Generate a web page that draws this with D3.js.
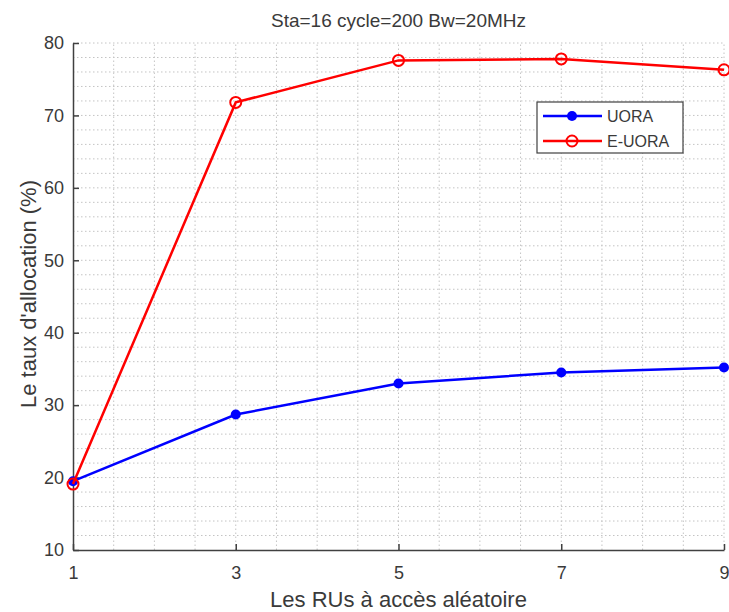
<!DOCTYPE html>
<html>
<head>
<meta charset="utf-8">
<script src="https://d3js.org/d3.v7.min.js"></script>
<style>
body { margin: 0; background: #fff; font-family: "Liberation Sans", Arial, sans-serif; }
svg { display: block; }
.grid line { stroke: #c4c4c4; stroke-width: 1; stroke-dasharray: 1.5 2.5; }
.axis path, .axis line { stroke: #404040; stroke-width: 1.5; }
.axis text { fill: #3a3a3a; font-size: 18px; font-family: "Liberation Sans", Arial, sans-serif; }
</style>
</head>
<body>
<div id="plot"></div>
<script>
var xValues = [1, 3, 5, 7, 9];
var uora = [19.5, 28.7, 33.0, 34.5, 35.2];
var euora = [19.1, 71.8, 77.6, 77.8, 76.3];
var xTicks = [1, 3, 5, 7, 9];
var yTicks = [10, 20, 30, 40, 50, 60, 70, 80];

var width = 729, height = 612;
var margin = { left: 73, right: 5, top: 43, bottom: 62 };

var svg = d3.select("#plot").append("svg")
  .attr("width", width).attr("height", height);

var xScale = d3.scaleLinear().domain([1, 9]).range([margin.left, width - margin.right]);
var yScale = d3.scaleLinear().domain([10, 80]).range([height - margin.bottom, margin.top]);

// dotted grid, minor every 0.5 in x and every 2 in y
var grid = svg.append("g").attr("class", "grid");
grid.selectAll("line.gx").data(d3.range(1.5, 9.01, 0.5)).enter()
  .append("line").attr("class", "gx")
  .attr("x1", d => xScale(d)).attr("x2", d => xScale(d))
  .attr("y1", yScale(10)).attr("y2", yScale(80));
grid.selectAll("line.gy").data(d3.range(12, 80.01, 2)).enter()
  .append("line").attr("class", "gy")
  .attr("x1", xScale(1)).attr("x2", xScale(9))
  .attr("y1", d => yScale(d)).attr("y2", d => yScale(d));

// axes
svg.append("g").attr("class", "axis")
  .attr("transform", "translate(0," + yScale(10) + ")")
  .call(d3.axisBottom(xScale).tickValues(xTicks).tickSizeInner(-6).tickSizeOuter(0).tickPadding(16));
svg.append("g").attr("class", "axis")
  .attr("transform", "translate(" + xScale(1) + ",0)")
  .call(d3.axisLeft(yScale).tickValues(yTicks).tickSizeInner(-6).tickSizeOuter(0).tickPadding(9));

// series
var line = d3.line().x((d, i) => xScale(xValues[i])).y(d => yScale(d));

svg.append("path").datum(uora)
  .attr("d", line).attr("fill", "none")
  .attr("stroke", "#0000ff").attr("stroke-width", 2.5);
svg.selectAll("circle.uora").data(uora).enter()
  .append("circle").attr("class", "uora")
  .attr("cx", (d, i) => xScale(xValues[i])).attr("cy", d => yScale(d))
  .attr("r", 5).attr("fill", "#0000ff");

svg.append("path").datum(euora)
  .attr("d", line).attr("fill", "none")
  .attr("stroke", "#ff0000").attr("stroke-width", 2.5);
svg.selectAll("circle.euora").data(euora).enter()
  .append("circle").attr("class", "euora")
  .attr("cx", (d, i) => xScale(xValues[i])).attr("cy", d => yScale(d))
  .attr("r", 5.5).attr("fill", "none")
  .attr("stroke", "#ff0000").attr("stroke-width", 2);

// title and labels
svg.append("text")
  .attr("x", (xScale(1) + xScale(9)) / 2).attr("y", 27)
  .attr("text-anchor", "middle")
  .style("font-size", "19px").style("fill", "#3a3a3a")
  .text("Sta=16 cycle=200 Bw=20MHz");

svg.append("text")
  .attr("x", (xScale(1) + xScale(9)) / 2).attr("y", 607)
  .attr("text-anchor", "middle")
  .style("font-size", "22px").style("fill", "#3a3a3a")
  .text("Les RUs à accès aléatoire");

svg.append("text")
  .attr("transform", "translate(36,294) rotate(-90)")
  .attr("text-anchor", "middle")
  .style("font-size", "22px").style("fill", "#3a3a3a")
  .text("Le taux d'allocation (%)");

// legend
var legend = svg.append("g").attr("transform", "translate(537,102)");
legend.append("rect")
  .attr("width", 146).attr("height", 51)
  .attr("fill", "#fff").attr("stroke", "#404040").attr("stroke-width", 1.2);

var entries = [
  { name: "UORA", color: "#0000ff", filled: true },
  { name: "E-UORA", color: "#ff0000", filled: false }
];
var rows = legend.selectAll("g.entry").data(entries).enter()
  .append("g").attr("class", "entry")
  .attr("transform", (d, i) => "translate(0," + (14 + i * 25) + ")");
rows.append("line")
  .attr("x1", 6).attr("x2", 65).attr("y1", 0).attr("y2", 0)
  .attr("stroke", d => d.color).attr("stroke-width", 2.5);
rows.append("circle")
  .attr("cx", 35).attr("cy", 0)
  .attr("r", d => d.filled ? 5 : 5.5)
  .attr("fill", d => d.filled ? d.color : "none")
  .attr("stroke", d => d.filled ? "none" : d.color)
  .attr("stroke-width", 2);
rows.append("text")
  .attr("x", 70).attr("y", 6)
  .style("font-size", "16px").style("fill", "#3a3a3a")
  .text(d => d.name);
</script>
</body>
</html>
